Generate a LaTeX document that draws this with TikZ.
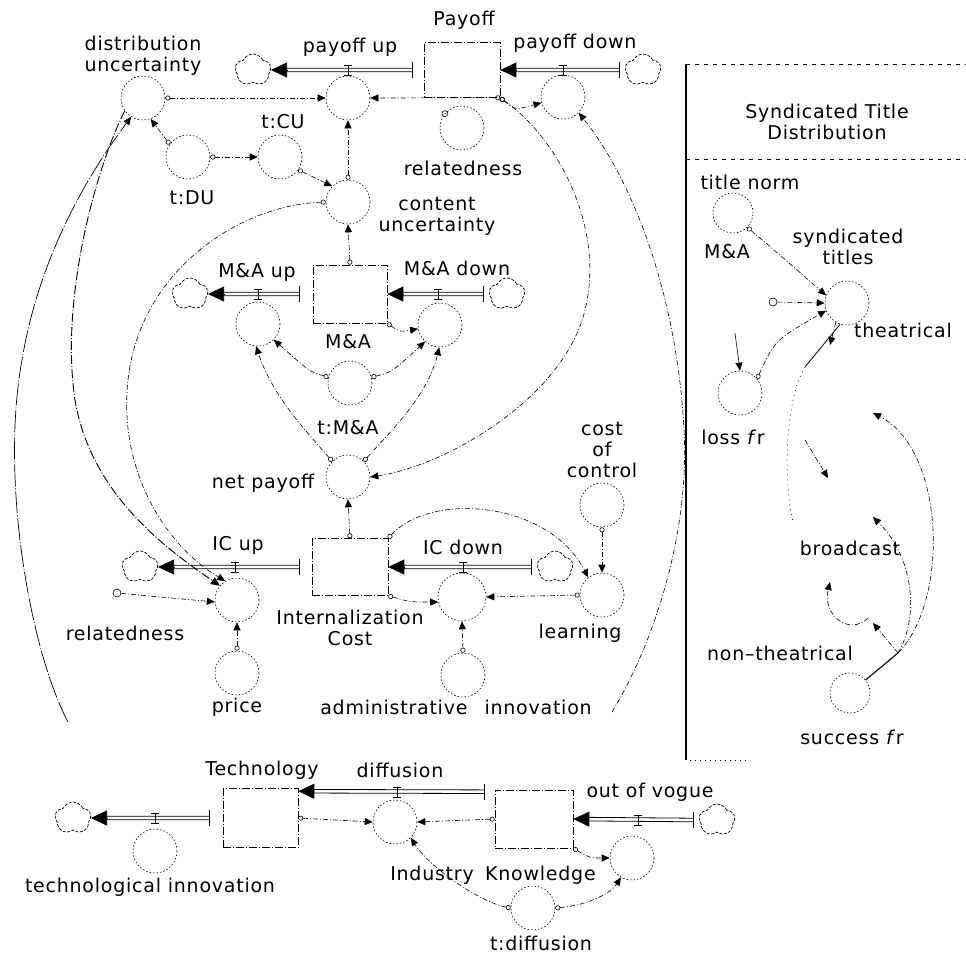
\documentclass[tikz,border=0pt]{standalone}
\usepackage{fontspec}
\setmainfont{DejaVu Sans}[LetterSpace=4]
\usetikzlibrary{arrows.meta,shapes.symbols,calc}
\newcommand\lblfont{\fontsize{19}{21}\selectfont}
\newcommand\flowpipe[2]{%
  \draw[pipeline,shorten >=13pt] ($(#1)+(0,-1.8)$) -- ($(#2)+(0,-1.8)$);
  \draw[pipeline,shorten >=13pt] ($(#1)+(0,1.8)$) -- ($(#2)+(0,1.8)$);
  \draw[ftip] ($(#2)!16pt!(#1)$) -- (#2);
  \draw[line width=0.7pt] ($(#1)+(0,-8)$) -- ($(#1)+(0,8)$);}
\begin{document}
\begin{tikzpicture}[x=1pt,y=-1pt,
  every node/.style={font=\lblfont, inner sep=1pt},
  aux/.style={circle, draw, line width=0.6pt, dash pattern=on 1.5pt off 2pt, minimum size=44pt, inner sep=0pt},
  ghostc/.style={circle, draw, line width=0.6pt, minimum size=8pt, inner sep=0pt},
  stock/.style={rectangle, draw, line width=0.6pt, dash pattern=on 8pt off 2pt on 1pt off 2pt, inner sep=0pt},
  cloudn/.style={cloud, cloud puffs=5, cloud puff arc=130, cloud ignores aspect, draw, line width=0.7pt, dash pattern=on 3pt off 1.5pt, minimum width=36pt, minimum height=32pt, inner sep=0pt},
  pipeline/.style={line width=0.8pt},
  ftip/.style={line width=0.7pt, -{Triangle[length=16pt,width=15pt]}},
  conn/.style={line width=0.6pt, dash pattern=on 5pt off 2pt on 1pt off 2pt, -{Triangle[length=8pt,width=7pt]}},
  conno/.style={conn, {Circle[open,length=5pt,width=5pt]}-{Triangle[length=8pt,width=7pt]}},
  midc/.style={line width=0.9pt, dash pattern=on 9pt off 2pt on 1pt off 2pt, -{Triangle[length=9pt,width=8pt]}},
  outc/.style={line width=0.7pt, dash pattern=on 22pt off 2pt on 1pt off 2pt, -{Triangle[length=8pt,width=7pt]}},
  faintl/.style={line width=0.6pt, dash pattern=on 1pt off 4pt},
  valve/.pic={\draw[line width=0.6pt] (-4,-5)--(4,-5) (0,-5)--(0,5) (-4,5)--(4,5);}
]
\useasboundingbox (0,0) rectangle (966,962);

% ---------- Payoff sector ----------
\node[stock, minimum width=76pt, minimum height=55pt] (payoff) at (462,70) {};
\node[cloudn] (pucl) at (253,70) {};
\node[cloudn] (pdcl) at (643,70) {};
\node[aux] (pu) at (348,98) {};
\node[aux] (pd) at (563,97) {};
\node[aux] (du) at (143,98) {};
\node[aux] (tdu) at (188,157) {};
\node[aux] (tcu) at (280,157) {};
\node[aux] (cu) at (348,202) {};
\node[aux] (rel) at (462,128) {};
\node[ghostc, minimum size=6pt] (relmk) at (rel.140) {};

\node (tPayoff) at (464,20) {Payoff};
\node (tPU) at (350,47) {payoff up};
\node (tPD) at (575,43) {payoff down};
\node[align=center] (tDUl) at (143,56) {distribution\\uncertainty};
\node (tTCU) at (283,122) {t:CU};
\node (tTDU) at (192,198) {t:DU};
\node (tRel) at (463,168) {relatedness};
\node[align=center] (tCU) at (437,216) {content\\uncertainty};

\coordinate (puS) at ($(payoff.west)+(-11,0)$);
\coordinate (pdS) at ($(pdcl.west)+(-6,0)$);
\flowpipe{puS}{pucl.east}
\flowpipe{pdS}{payoff.east}
\pic at (348,70) {valve};
\pic at (563,70) {valve};

\draw[conno] (du.east) -- (pu.west);
\draw[conno] (payoff.south east) -- (pu.east);
\draw[conno] (cu.north) -- (pu.south);
\draw[conno] (tdu.145) -- (du.290);
\draw[conno] (tdu.east) -- (tcu.west);
\draw[conno] (tcu.325) -- (cu.135);
\draw[conno] (payoff.south east) .. controls (515,110) .. (pd.195);

% ---------- M&A sector ----------
\node[stock, minimum width=74pt, minimum height=58pt] (ma) at (350,294) {};
\node[cloudn] (maucl) at (190,294) {};
\node[cloudn] (madcl) at (507,294) {};
\node[aux] (mau) at (258,324) {};
\node[aux] (mad) at (440,325) {};
\node[aux] (tma) at (350,383) {};
\node[aux] (np) at (348,477) {};

\node (tMAU) at (257,272) {M\&A up};
\node (tMAD) at (457,268) {M\&A down};
\node (tMA) at (348,342) {M\&A};
\node (tTMA) at (348,428) {t:M\&A};
\node (tNP) at (263,483) {net payoff};

\coordinate (mauS) at ($(ma.west)+(-13,0)$);
\coordinate (madS) at ($(madcl.west)+(-6,0)$);
\flowpipe{mauS}{maucl.east}
\flowpipe{madS}{ma.east}
\pic at (258,294) {valve};
\pic at (438,294) {valve};

\draw[conno] (ma.north) -- (cu.south);
\draw[conno] (ma.south east) .. controls (400,332) .. (mad.190);
\draw[conno] (tma.165) .. controls (310,372) .. (mau.315);
\draw[conno] (tma.15) .. controls (392,372) .. (mad.228);
\draw[conno] (np.135) .. controls (305,430) and (272,395) .. (mau.265);
\draw[conno] (np.45) .. controls (392,430) and (428,395) .. (mad.268);

% ---------- Internalization Cost sector ----------
\node[stock, minimum width=76pt, minimum height=57pt] (ic) at (350,567) {};
\node[cloudn] (icucl) at (140,567) {};
\node[cloudn] (icdcl) at (555,567) {};
\node[aux] (icu) at (237,600) {};
\node[aux, minimum size=48pt] (icd) at (462,597) {};
\node[aux] (learn) at (602,595) {};
\node[aux] (coc) at (602,505) {};
\node[aux] (price) at (237,673) {};
\node[aux] (adm) at (463,675) {};
\node[ghostc] (rel2) at (117,593) {};

\node (tICU) at (238,545) {IC up};
\node (tICD) at (463,547) {IC down};
\node (tRel2) at (125,633) {relatedness};
\node[align=center] (tIC) at (350,628) {Internalization\\Cost};
\node (tLearn) at (580,633) {learning};
\node[align=center] (tCoC) at (602,450) {cost\\of\\control};
\node (tPrice) at (237,707) {price};
\node (tAdm) at (456,707) {administrative\hspace{0.9em}innovation};

\coordinate (icuS) at ($(ic.west)+(-12,0)$);
\coordinate (icdS) at ($(icdcl.west)+(-6,0)$);
\flowpipe{icuS}{icucl.east}
\flowpipe{icdS}{ic.east}
\pic at (235,567) {valve};
\pic at (463,567) {valve};

\draw[conno] (ic.north) -- (np.south);
\draw[conn] (rel2) -- (icu.185);
\draw[conno] (price.north) -- (icu.south);
\draw[conno] (ic.south east) .. controls (410,602) .. (icd.192);
\draw[conno] (learn.west) -- (icd.east);
\draw[conno] (coc.south) -- (learn.north);
\draw[conno] (ic.north east) .. controls (430,492) and (548,500) .. (learn.128);
\draw[conno] (adm.north) -- (icd.south);

% long loops
\draw[conno] (payoff.south east) .. controls (560,140) and (605,230) .. (585,310)
   .. controls (565,395) and (450,465) .. (np.east);
\coordinate (innovE) at (612,712);
\draw[conn] (innovE) .. controls (650,650) and (690,540) .. (684,430)
   .. controls (678,310) and (640,190) .. (pd.south east);
\draw[conno] (cu.west) .. controls (240,205) and (140,270) .. (128,380)
   .. controls (118,470) and (165,545) .. (icu.122);
\draw[midc] (du.215) .. controls (95,170) and (60,300) .. (75,400)
   .. controls (90,490) and (160,545) .. (icu.140);
\coordinate (outS) at (68,722);
\draw[outc] (outS) .. controls (30,650) and (0,480) .. (22,360)
   .. controls (40,250) and (95,165) .. (du.238);

% ---------- Syndicated Title Distribution panel ----------
\draw[line width=1.6pt] (686,64) -- (686,760);
\draw[line width=0.6pt, dash pattern=on 4pt off 5pt] (686,64) -- (966,64);
\draw[line width=0.6pt, dash pattern=on 4pt off 5pt] (686,159) -- (966,159);
\draw[faintl] (690,760) -- (750,760);
\node[align=center] (tSTD) at (827,122) {Syndicated Title\\Distribution};
\node (tTN) at (750,182) {title norm};
\node[aux, minimum size=40pt] (tn) at (733,213) {};
\node (tGMA) at (727,252) {M\&A};
\node[align=center] (tSyn) at (848,247) {syndicated\\titles};
\node[aux] (syn) at (847,303) {};
\node[ghostc] (g2) at (773,302) {};
\node[aux] (loss) at (740,393) {};
\node (tLoss) at (733,437) {loss \textit{f}r};
\node (tTheat) at (903,330) {theatrical};
\node (tBroad) at (850,548) {broadcast};
\node (tNT) at (780,653) {non–theatrical};
\node[aux, minimum size=40pt] (sfr) at (850,693) {};
\node (tSucc) at (852,737) {success \textit{f}r};

\coordinate (A1) at (830,345);
\coordinate (A2) at (873,413);
\coordinate (A3) at (828,478);
\coordinate (A4) at (873,517);
\coordinate (A5) at (830,582);
\coordinate (A6) at (873,623);
\coordinate (L1) at (805,367);
\coordinate (L2) at (793,522);
\coordinate (L3) at (805,440);
\coordinate (N1) at (868,618);
\coordinate (S1) at (898,653);
\coordinate (lossin) at (735,333);

\draw[conno] (tn.south east) .. controls (780,255) .. (syn.160);
\draw[conn] (g2) -- (syn.180);
\draw[conno] (loss.40) .. controls (775,340) .. (syn.200);
\draw[line width=0.6pt, -{Triangle[length=8pt,width=7pt]}] (lossin) -- (loss.north);
\draw[conn] (syn.240) -- (A1);
\draw[line width=0.8pt] (syn.252) -- (L1);
\draw[faintl] (L1) .. controls (785,400) and (783,480) .. (L2);
\draw[conn] (L3) -- (A3);
\draw[conn] (N1) .. controls (850,636) and (822,616) .. (A5);
\draw[line width=1.1pt] (sfr.40) -- (S1);
\draw[conn] (S1) -- (A6);
\draw[conn] (S1) .. controls (918,620) and (916,560) .. (A4);
\draw[conn] (S1) .. controls (950,600) and (945,450) .. (A2);

% ---------- Technology / Industry Knowledge ----------
\node[stock, minimum width=75pt, minimum height=59pt] (tech) at (260.5,818) {};
\node[stock, minimum width=78pt, minimum height=58pt] (ik) at (534,819) {};
\node[cloudn] (ticl) at (73,818) {};
\node[cloudn] (oovcl) at (717,820) {};
\node[aux] (ti) at (155,851) {};
\node[aux] (dif) at (395,822) {};
\node[aux] (oov) at (632,858) {};
\node[aux] (tdf) at (533,908) {};

\node (tTech) at (262,770) {Technology};
\node (tDiff) at (400,770) {diffusion};
\node (tOOV) at (650,792) {out of vogue};
\node (tTI) at (150,887) {technological innovation};
\node (tIK) at (493,875) {Industry\hspace{0.6em}Knowledge};
\node (tTD) at (541,943) {t:diffusion};

\coordinate (tiS) at ($(tech.west)+(-13,0)$);
\coordinate (difS) at ($(ik.north west)+(-10,2)$);
\coordinate (difE) at ($(tech.north east)+(0,3)$);
\coordinate (oovS) at ($(oovcl.west)+(-6,0)$);
\flowpipe{tiS}{ticl.east}
\flowpipe{difS}{difE}
\flowpipe{oovS}{ik.east}
\pic at (155,818) {valve};
\pic at (397,792) {valve};
\pic at (638,820) {valve};

\draw[conno] (tech.east) -- (dif.west);
\draw[conno] (ik.west) -- (dif.east);
\draw[conno] (tdf.west) .. controls (480,902) and (430,868) .. (dif.south east);
\draw[conno] (ik.south east) .. controls (590,858) .. (oov.west);
\draw[conno] (tdf.east) .. controls (590,905) and (612,892) .. (oov.240);
\end{tikzpicture}
\end{document}
